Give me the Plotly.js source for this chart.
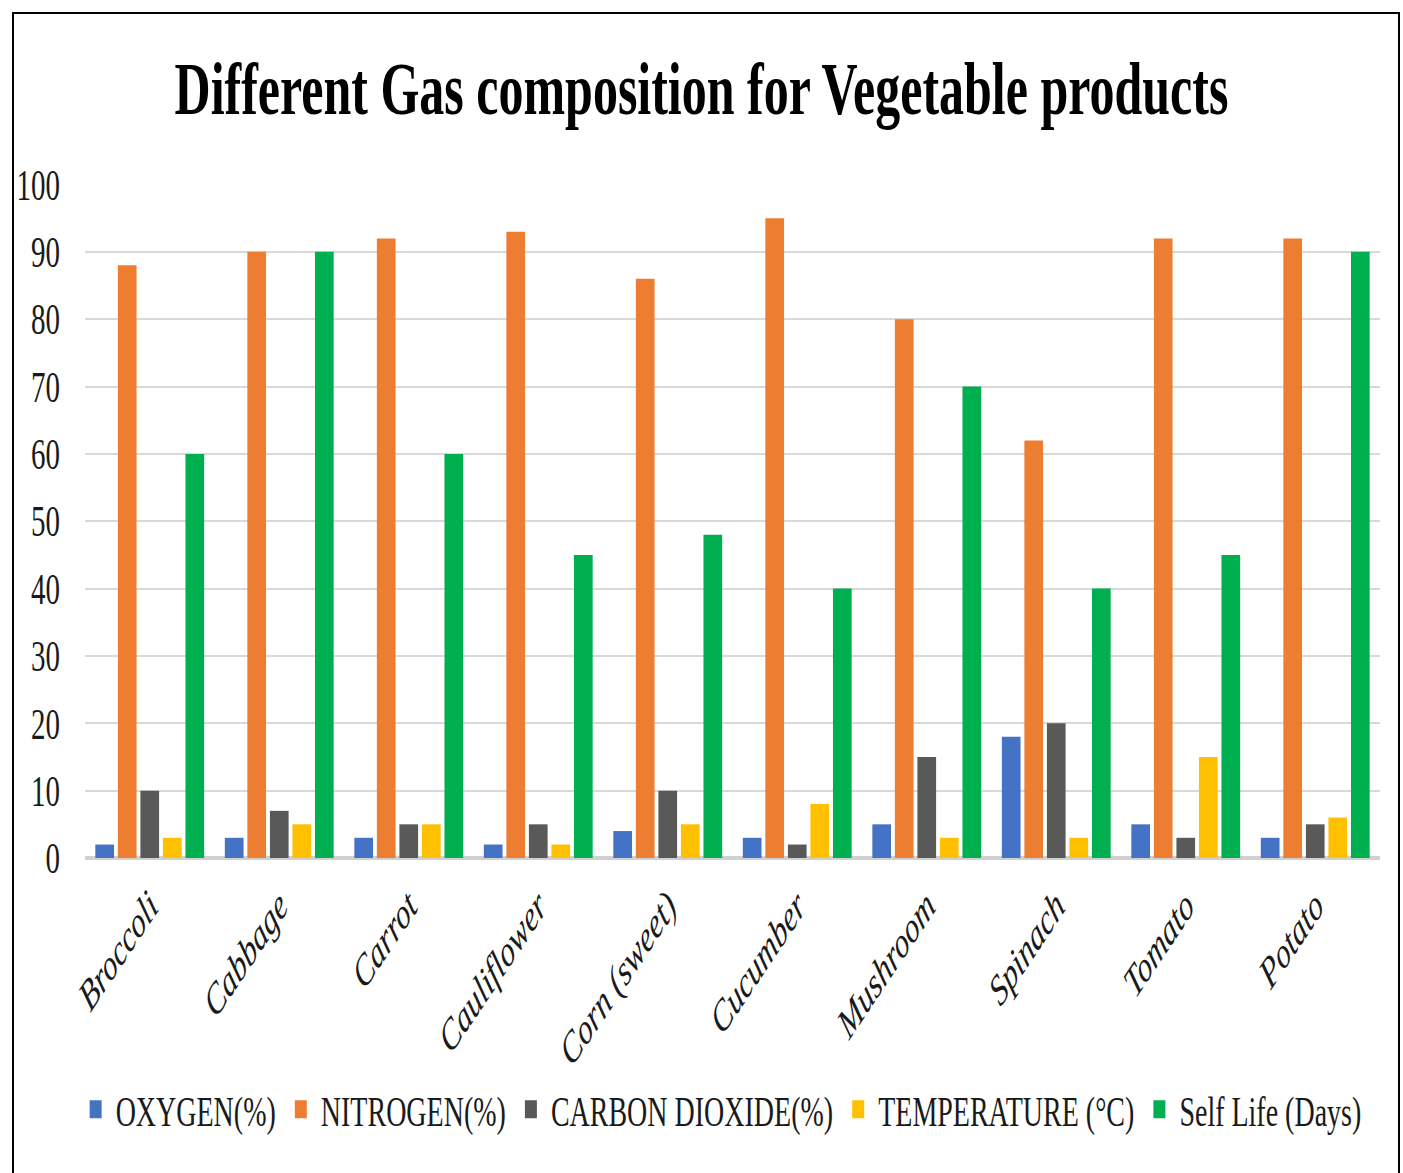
<!DOCTYPE html>
<html>
<head>
<meta charset="utf-8">
<script src="https://cdn.plot.ly/plotly-3.0.1.min.js"></script>
<style>
  html, body { margin: 0; padding: 0; background: #fff; overflow: hidden; }
  #wrap { position: absolute; left: 0; top: 0; width: 1403px; height: 1173px; overflow: hidden; }
  /* chart is laid out at a shorter height and stretched vertically */
  #chart { position: absolute; left: 0; top: 0; width: 1403px; height: 782px;
           transform: scaleY(1.5); transform-origin: 0 0; }
  #frame { position: absolute; left: 12px; top: 12px; width: 1384px; height: 1200px;
           border: 2px solid #000; pointer-events: none; }
</style>
</head>
<body>
<div id="wrap">
  <div id="chart"></div>
  <div id="frame"></div>
</div>
<script>
const vegetables = ["Broccoli", "Cabbage", "Carrot", "Cauliflower", "Corn (sweet)",
                    "Cucumber", "Mushroom", "Spinach", "Tomato", "Potato"];
const oxygen      = [2, 3, 3, 2, 4, 3, 5, 18, 5, 3];
const nitrogen    = [88, 90, 92, 93, 86, 95, 80, 62, 92, 92];
const carbonDioxide = [10, 7, 5, 5, 10, 2, 15, 20, 3, 5];
const temperature = [3, 5, 5, 2, 5, 8, 3, 3, 15, 6];
const shelfLife   = [60, 90, 60, 45, 48, 40, 70, 40, 45, 90];
const yTicks = [0, 10, 20, 30, 40, 50, 60, 70, 80, 90, 100];

const seriesNames  = ["OXYGEN(%)", "NITROGEN(%)", "CARBON DIOXIDE(%)", "TEMPERATURE (\u00B0C)", "Self Life (Days)"];
const seriesValues = [oxygen, nitrogen, carbonDioxide, temperature, shelfLife];
const seriesColors = ["#4472C4", "#ED7D31", "#595959", "#FFC000", "#00B050"];

const serif = "'Liberation Serif', 'Times New Roman', serif";

const traces = seriesNames.map((name, i) => ({
  type: "bar",
  name: name,
  x: vegetables,
  y: seriesValues[i],
  marker: { color: seriesColors[i], line: { width: 0 } },
  hoverinfo: "x+y+name"
}));

const layout = {
  width: 1403,
  height: 782,
  paper_bgcolor: "#ffffff",
  plot_bgcolor: "#ffffff",
  margin: { l: 85, r: 23, t: 123, b: 210 },
  barmode: "group",
  bargap: 0.13,
  bargroupgap: 0.17,
  title: {
    text: "Different Gas composition for Vegetable products",
    font: { family: serif, size: 50, color: "#000", weight: "bold" },
    x: 0.5, xanchor: "center",
    yref: "container", y: 0.925, yanchor: "middle"
  },
  xaxis: {
    type: "category",
    tickangle: -45,
    tickfont: { family: serif, size: 29, color: "#1a1a1a", style: "italic" },
    showgrid: false,
    showline: false,
    ticks: "",
    zeroline: false,
    ticklabelstandoff: 8
  },
  yaxis: {
    range: [0, 100],
    tickvals: yTicks,
    ticktext: yTicks.map(String),
    tickfont: { family: serif, size: 29, color: "#1a1a1a" },
    showgrid: true,
    gridcolor: "#d9d9d9",
    gridwidth: 1.3,
    zeroline: true,
    zerolinecolor: "#d0d0d0",
    zerolinewidth: 3,
    showline: false,
    ticks: "",
    ticklabelstandoff: 24
  },
  showlegend: true,
  legend: {
    orientation: "h",
    xref: "container", x: 0.514, xanchor: "center",
    yref: "container", y: 0.054, yanchor: "middle",
    font: { family: serif, size: 28, color: "#1a1a1a" },
    itemwidth: 30,
    bgcolor: "rgba(0,0,0,0)"
  }
};

Plotly.newPlot("chart", traces, layout, { displayModeBar: false, staticPlot: true });
</script>
</body>
</html>
